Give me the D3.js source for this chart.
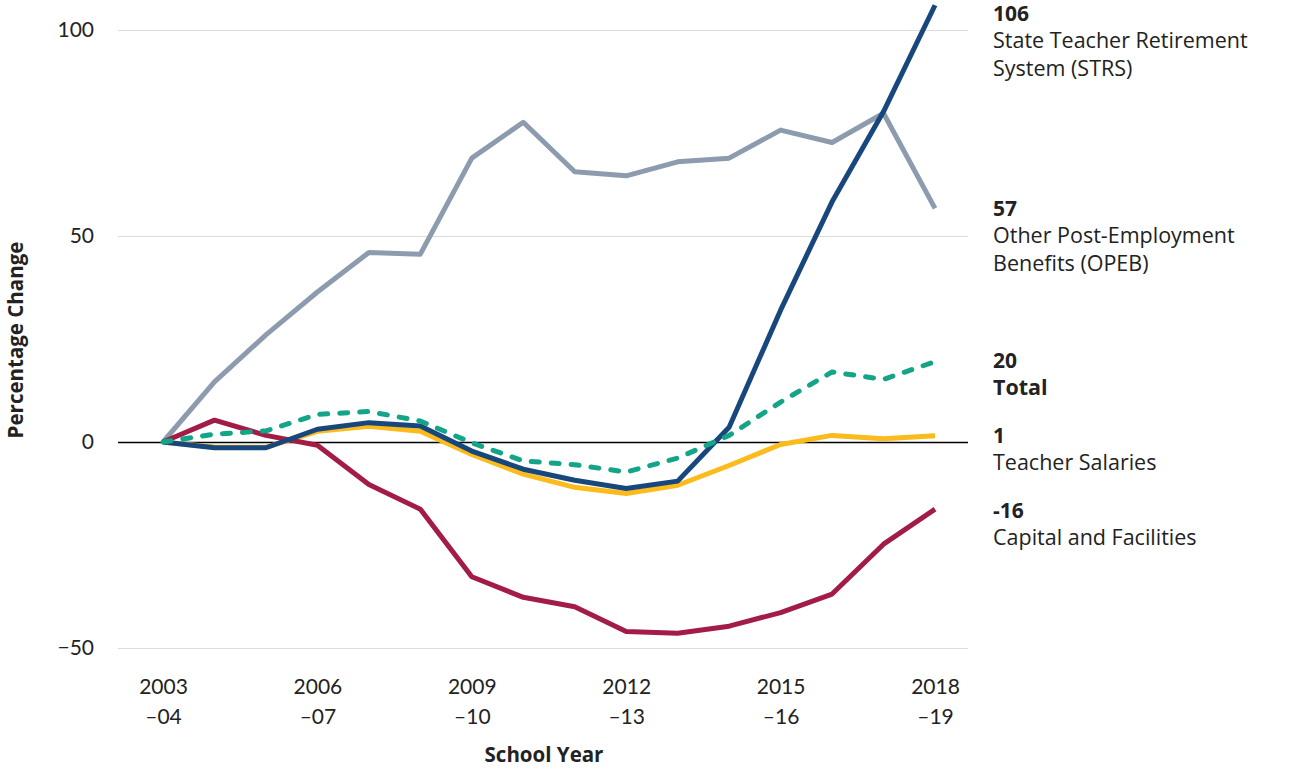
<!DOCTYPE html>
<html>
<head>
<meta charset="utf-8">
<script src="https://cdn.jsdelivr.net/npm/d3@7"></script>
<style>
  html, body { margin: 0; padding: 0; background: #fff; }
  svg { display: block; }
  text { font-family: "Open Sans", Lato, sans-serif; fill: #222; }
</style>
</head>
<body>
<svg id="chart" width="1300" height="768"></svg>
<script>
// ---- Data ----
const schoolYears = ["2003–04","2004–05","2005–06","2006–07","2007–08","2008–09","2009–10","2010–11",
  "2011–12","2012–13","2013–14","2014–15","2015–16","2016–17","2017–18","2018–19"];
const strsValues    = [0, -1.4, -1.4, 3.1, 4.7, 3.9, -2.2, -6.6, -9.3, -11.3, -9.5, 3.6, 32, 58.3, 80.2, 106];
const opebValues    = [0, 14.6, 26, 36.4, 46, 45.6, 68.9, 77.6, 65.6, 64.6, 68, 68.9, 75.7, 72.7, 79.8, 56.7];
const totalValues   = [0, 1.9, 2.7, 6.7, 7.4, 5.1, -0.2, -4.6, -5.5, -7.3, -3.9, 1.6, 9.7, 17, 15.2, 19.5];
const salaryValues  = [0, -1.2, -1.3, 2.6, 3.8, 2.6, -3, -7.8, -11, -12.5, -10.5, -5.7, -0.6, 1.6, 0.8, 1.5];
const capitalValues = [0, 5.3, 1.6, -0.8, -10.3, -16.3, -32.7, -37.7, -40, -46, -46.4, -44.7, -41.4, -36.9, -24.8, -16.3];
const yTickValues = [-50, 0, 50, 100];
const xTickIndices = [0, 3, 6, 9, 12, 15];
const endLabels = [
  { key: "strs",    value: "106", name: ["State Teacher Retirement", "System (STRS)"], boldName: false },
  { key: "opeb",    value: "57",  name: ["Other Post-Employment", "Benefits (OPEB)"], boldName: false },
  { key: "total",   value: "20",  name: ["Total"], boldName: true },
  { key: "salary",  value: "1",   name: ["Teacher Salaries"], boldName: false },
  { key: "capital", value: "-16", name: ["Capital and Facilities"], boldName: false }
];

// ---- Setup ----
const svg = d3.select("#chart");
const x = d3.scaleLinear().domain([0, schoolYears.length - 1]).range([163, 935]);
const y = d3.scaleLinear().domain([-50, 100]).range([648, 30]);
const gridX0 = 118, gridX1 = 968;

// gridlines
const yAxis = d3.axisLeft(y).tickValues(yTickValues).tickSize(-(gridX1 - gridX0))
  .tickFormat(d => d < 0 ? "\u2212" + Math.abs(d) : String(d)).tickPadding(24);
const gy = svg.append("g").attr("transform", `translate(${gridX0},0)`).call(yAxis);
gy.select(".domain").remove();
gy.selectAll(".tick line").attr("stroke", d => d === 0 ? "#000" : "#dcdcdc")
  .attr("stroke-width", d => d === 0 ? 1.5 : 1);
gy.selectAll(".tick text").style("font-size", "21px").attr("fill", "#222")
  .style("font-family", "Lato, sans-serif");

// x axis labels
const xAxis = d3.axisBottom(x).tickValues(xTickIndices).tickSize(0).tickFormat("");
const gx = svg.append("g").attr("transform", `translate(0,${y(-50)})`).call(xAxis);
gx.select(".domain").remove();
gx.selectAll(".tick").each(function(d) {
  const parts = schoolYears[d].split("–");
  const t = d3.select(this);
  t.append("text").attr("y", 46).attr("text-anchor", "middle").style("font-size", "21px")
    .style("font-family", "Lato, sans-serif").text(parts[0]);
  t.append("text").attr("y", 76).attr("text-anchor", "middle").style("font-size", "21px")
    .style("font-family", "Lato, sans-serif").text("\u2013" + parts[1]);
});

// axis titles
svg.append("text").attr("x", 544).attr("y", 762).attr("text-anchor", "middle")
  .style("font-size", "20.5px").style("font-weight", "bold").attr("fill", "#111").text("School Year");
svg.append("text").attr("transform", "translate(23,340) rotate(-90)").attr("text-anchor", "middle")
  .style("font-size", "20.5px").style("font-weight", "bold").attr("fill", "#111").text("Percentage Change");

// lines
const line = d3.line().x((d, i) => x(i)).y(d => y(d));
const series = [
  { key: "opeb", values: opebValues, color: "#8c9bae", dash: null },
  { key: "salary", values: salaryValues, color: "#fbbb1a", dash: null },
  { key: "capital", values: capitalValues, color: "#a21c47", dash: null },
  { key: "strs", values: strsValues, color: "#17477d", dash: null },
  { key: "total", values: totalValues, color: "#14a488", dash: "8,12" }
];
svg.append("g").selectAll("path").data(series).join("path")
  .attr("d", d => line(d.values))
  .attr("fill", "none")
  .attr("stroke", d => d.color)
  .attr("stroke-width", 5)
  .attr("stroke-linejoin", "round")
  .attr("stroke-linecap", d => d.dash ? "round" : "butt")
  .attr("stroke-dasharray", d => d.dash);

// end labels
const labelPos = { strs: 21, opeb: 216, total: 368, salary: 443, capital: 518 };
const lg = svg.append("g");
endLabels.forEach(l => {
  const by = labelPos[l.key];
  lg.append("text").attr("x", 993).attr("y", by).style("font-size", "21px").style("font-weight", "bold")
    .attr("fill", "#111").text(l.value);
  l.name.forEach((n, j) => {
    lg.append("text").attr("x", 993).attr("y", by + 27 + j * 28).style("font-size", "21.5px")
      .style("font-weight", l.boldName ? "bold" : "normal").attr("fill", "#111").text(n);
  });
});
</script>
</body>
</html>
